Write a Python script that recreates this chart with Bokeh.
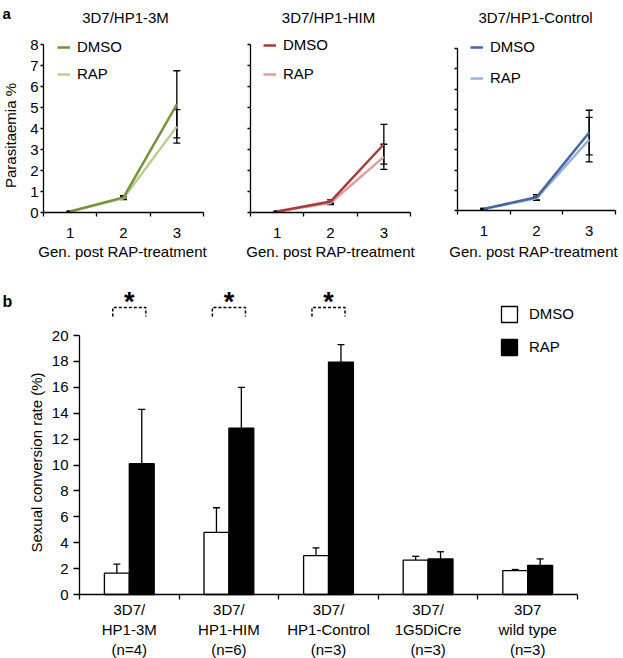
from bokeh.plotting import figure
from bokeh.layouts import column, row
from bokeh.models import (FixedTicker, Legend, LegendItem, Whisker, TeeHead,
                          ColumnDataSource, Label, Range1d, CustomLabelingPolicy)
from bokeh.embed import file_html
from bokeh.resources import INLINE
from bokeh.core.properties import value
import numpy as np

FONT = "Liberation Sans"

# ---------------- data: panel a ----------------
generations = [1, 2, 3]
gen_axis_label = "Gen. post RAP-treatment"
y_label_a = "Parasitaemia %"
panel_titles = ["3D7/HP1-3M", "3D7/HP1-HIM", "3D7/HP1-Control"]

dmso_3m = [0.05, 0.72, 5.15]
dmso_3m_err = [0.02, 0.08, 1.6]
rap_3m = [0.05, 0.68, 4.1]
rap_3m_err = [0.02, 0.07, 0.8]

dmso_him = [0.05, 0.52, 3.25]
dmso_him_err = [0.02, 0.08, 0.95]
rap_him = [0.05, 0.45, 2.65]
rap_him_err = [0.02, 0.07, 0.6]

dmso_ctrl = [0.08, 0.65, 3.85]
dmso_ctrl_err = [0.02, 0.13, 1.1]
rap_ctrl = [0.08, 0.60, 3.5]
rap_ctrl_err = [0.02, 0.10, 1.1]

# ---------------- data: panel b ----------------
groups = ["3D7/\nHP1-3M\n(n=4)", "3D7/\nHP1-HIM\n(n=6)", "3D7/\nHP1-Control\n(n=3)",
          "3D7/\n1G5DiCre\n(n=3)", "3D7\nwild type\n(n=3)"]
y_label_b = "Sexual conversion rate (%)"
conv_dmso = [1.65, 4.8, 3.0, 2.65, 1.85]
conv_dmso_err = [0.7, 1.9, 0.6, 0.3, 0.08]
conv_rap = [10.1, 12.85, 17.95, 2.75, 2.25]
conv_rap_err = [4.2, 3.15, 1.35, 0.55, 0.5]
significant = [True, True, True, False, False]


def mapper(ox, oy, W, H, left, right, top, bottom, x0, x1, y0, y1):
    """Ranges so that the data box [x0,x1]x[y0,y1] lands on the given page pixels."""
    l, r, t, b = left - ox, right - ox, top - oy, bottom - oy
    ppx = (r - l) / (x1 - x0)
    ppy = (b - t) / (y1 - y0)
    xs = x0 - l / ppx
    xe = x1 + (W - r) / ppx
    ys = y0 - (H - b) / ppy
    ye = y1 + t / ppy
    return dict(xs=xs, xe=xe, ys=ys, ye=ye, ppx=ppx, ppy=ppy,
                fx=lambda ax: xs + (ax - ox) / ppx,
                fy=lambda ay: ye - (ay - oy) / ppy)


def new_fig(W, H, m):
    p = figure(width=W, height=H, x_range=Range1d(m["xs"], m["xe"]),
               y_range=Range1d(m["ys"], m["ye"]), title=None,
               min_border_left=0, min_border_right=0, min_border_top=0, min_border_bottom=0,
               output_backend="svg", toolbar_location=None)
    p.outline_line_color = None
    p.grid.visible = False
    p.background_fill_color = "white"
    p.border_fill_color = "white"
    return p


def style_axis(ax, size="15px"):
    ax.axis_line_color = "black"
    ax.axis_line_width = 1.3
    ax.major_tick_line_color = "black"
    ax.major_tick_line_width = 1.3
    ax.major_label_text_font = FONT
    ax.major_label_text_font_size = size
    ax.major_label_text_color = "black"


def add_text(p, x, y, text, size="15px", bold=False, align="center", baseline="middle", angle=0.0):
    p.add_layout(Label(x=x, y=y, text=text, text_align=align, text_baseline=baseline,
                       text_font=FONT, text_font_size=size,
                       text_font_style="bold" if bold else "normal",
                       text_color="black", angle=angle))


TOP_OY, TOP_H = 0, 267
BOT_OY, BOT_H = 267, 391


def make_top(title, dm, dm_e, rp, rp_e, c_dm, c_rp, ox, W, box, title_cx, xlab_cx,
             ylabels, leg_x, leg_first, leg_gap, letter=None):
    left, right, top, bottom = box
    m = mapper(ox, TOP_OY, W, TOP_H, left, right, top, bottom, 0.5, 3.5, 0, 8)
    p = new_fig(W, TOP_H, m)

    xa = p.xaxis[0]
    ya = p.yaxis[0]
    style_axis(xa)
    style_axis(ya)
    xa.fixed_location = 0
    xa.bounds = (0.5, 3.5)
    xa.ticker = FixedTicker(ticks=generations, minor_ticks=[0.5, 1.5, 2.5, 3.5])
    xa.major_tick_line_color = None
    xa.major_tick_out = 4
    xa.major_tick_in = 0
    xa.minor_tick_line_color = "black"
    xa.minor_tick_line_width = 1.3
    xa.minor_tick_out = 4
    xa.minor_tick_in = 0
    xa.major_label_standoff = 11

    ya.fixed_location = 0.5
    ya.bounds = (0, 8)
    ya.ticker = FixedTicker(ticks=list(range(0, 9)))
    ya.major_tick_out = 3
    ya.major_tick_in = 0
    ya.minor_tick_line_color = None
    ya.major_label_standoff = 2
    if not ylabels:
        ya.major_label_policy = CustomLabelingPolicy(code="return []")

    r_rp = p.line(generations, rp, line_color=c_rp, line_width=2.5)
    r_dm = p.line(generations, dm, line_color=c_dm, line_width=2.5)

    for vals, errs in ((dm, dm_e), (rp, rp_e)):
        v = np.array(vals)
        e = np.array(errs)
        src = ColumnDataSource(dict(x=generations, upper=v + e, lower=v - e))
        p.add_layout(Whisker(source=src, base="x", upper="upper", lower="lower",
                             dimension="height", line_color="black", line_width=1.3,
                             upper_head=TeeHead(size=7, line_color="black", line_width=1.3),
                             lower_head=TeeHead(size=7, line_color="black", line_width=1.3)))

    item_h = 16
    top_fig = leg_first - item_h / 2 - TOP_OY
    bottom_fig = top_fig + 2 * item_h + (leg_gap - item_h)
    leg = Legend(items=[LegendItem(label="DMSO", renderers=[r_dm]),
                        LegendItem(label="RAP", renderers=[r_rp])],
                 location=(leg_x - ox, TOP_H - bottom_fig), orientation="vertical",
                 padding=0, margin=0, spacing=leg_gap - item_h, glyph_width=13,
                 glyph_height=item_h, label_height=item_h, label_standoff=7,
                 border_line_color=None, background_fill_alpha=0, label_text_font=FONT,
                 label_text_font_size="15px", label_text_color="black")
    p.add_layout(leg)

    fx, fy = m["fx"], m["fy"]
    add_text(p, fx(title_cx), fy(17), title, baseline="alphabetic")
    add_text(p, fx(xlab_cx), fy(251), gen_axis_label)
    if ylabels:
        add_text(p, fx(10), fy(135), y_label_a, angle=np.pi / 2)
    if letter:
        add_text(p, fx(2), fy(13), letter, size="15px", bold=True, align="left",
                 baseline="alphabetic")
    return p


p1 = make_top(panel_titles[0], dmso_3m, dmso_3m_err, rap_3m, rap_3m_err,
              "#77933C", "#BACF93", 0, 222, (43, 203, 44, 212), 125, 122,
              True, 57, 48, 26, letter="a")
p2 = make_top(panel_titles[1], dmso_him, dmso_him_err, rap_him, rap_him_err,
              "#A63C3A", "#DE9E9C", 222, 210, (250, 410, 44, 212), 328, 330,
              False, 263, 46, 28)
p3 = make_top(panel_titles[2], dmso_ctrl, dmso_ctrl_err, rap_ctrl, rap_ctrl_err,
              "#45679F", "#97B3D9", 432, 191, (457, 615, 48, 210), 535, 533,
              False, 470, 48, 30)

# ---------------- panel b ----------------
n = len(groups)
xc = np.arange(n) + 0.5
mb = mapper(0, BOT_OY, 623, BOT_H, 79, 577, 335, 594, 0, n, 0, 20)
p4 = new_fig(623, BOT_H, mb)

r_d = p4.vbar(x=xc - 0.125, top=conv_dmso, width=0.25, fill_color="white",
              line_color="black", line_width=1.3)
r_r = p4.vbar(x=xc + 0.125, top=conv_rap, width=0.25, fill_color="black",
              line_color="black", line_width=1.3)

for off, vals, errs in ((-0.125, conv_dmso, conv_dmso_err), (0.125, conv_rap, conv_rap_err)):
    v = np.array(vals)
    e = np.array(errs)
    src = ColumnDataSource(dict(x=xc + off, upper=v + e, lower=v - e))
    p4.add_layout(Whisker(source=src, base="x", upper="upper", lower="lower",
                          dimension="height", line_color="black", line_width=1.3,
                          upper_head=TeeHead(size=7, line_color="black", line_width=1.3),
                          lower_head=TeeHead(size=7, line_color="black", line_width=1.3)))

# significance brackets
sig_idx = [i for i, s in enumerate(significant) if s]
bx, by = [], []
for i in sig_idx:
    c = xc[i]
    bx.append([c - 0.166, c - 0.166, c + 0.166, c + 0.166])
    by.append([21.47, 22.16, 22.16, 21.47])
p4.multi_line(bx, by, line_color="black", line_width=1.5, line_dash="3 2")
p4.text(x=[xc[i] for i in sig_idx], y=[22.55] * len(sig_idx), text=["*"] * len(sig_idx),
        text_font=value(FONT), text_font_style="bold", text_font_size="27px",
        text_align="center", text_baseline="alphabetic", text_color="black")

xa4 = p4.xaxis[0]
ya4 = p4.yaxis[0]
style_axis(xa4)
style_axis(ya4)
xa4.fixed_location = 0
xa4.bounds = (0, n)
xa4.ticker = FixedTicker(ticks=[float(v) for v in xc], minor_ticks=list(range(0, n + 1)))
xa4.major_label_overrides = {float(v): g for v, g in zip(xc, groups)}
xa4.major_tick_line_color = None
xa4.major_tick_out = 2
xa4.major_tick_in = 0
xa4.minor_tick_line_color = "black"
xa4.minor_tick_line_width = 1.3
xa4.minor_tick_out = 5
xa4.minor_tick_in = 0
xa4.major_label_standoff = 1

ya4.fixed_location = 0
ya4.bounds = (0, 20)
ya4.ticker = FixedTicker(ticks=list(range(0, 21, 2)))
ya4.major_tick_out = 6
ya4.major_tick_in = 0
ya4.minor_tick_line_color = None
ya4.major_label_standoff = 5

item_h4 = 20
leg_top = 313.5 - item_h4 / 2 - BOT_OY
leg_bottom = leg_top + 2 * item_h4 + 13
leg4 = Legend(items=[LegendItem(label="DMSO", renderers=[r_d]),
                     LegendItem(label="RAP", renderers=[r_r])],
              location=(499, BOT_H - leg_bottom), orientation="vertical", padding=0,
              margin=0, spacing=13, glyph_width=20, glyph_height=item_h4,
              label_height=item_h4, label_standoff=10, border_line_color=None,
              background_fill_alpha=0, label_text_font=FONT, label_text_font_size="15px",
              label_text_color="black")
p4.add_layout(leg4)

fxb, fyb = mb["fx"], mb["fy"]
add_text(p4, fxb(36), fyb(462), y_label_b, angle=np.pi / 2)
add_text(p4, fxb(2), fyb(301), "b", size="16px", bold=True, align="left", baseline="alphabetic")

layout = column(row(p1, p2, p3), p4)
html = file_html(layout, INLINE)
open("out.html", "w").write(html)
